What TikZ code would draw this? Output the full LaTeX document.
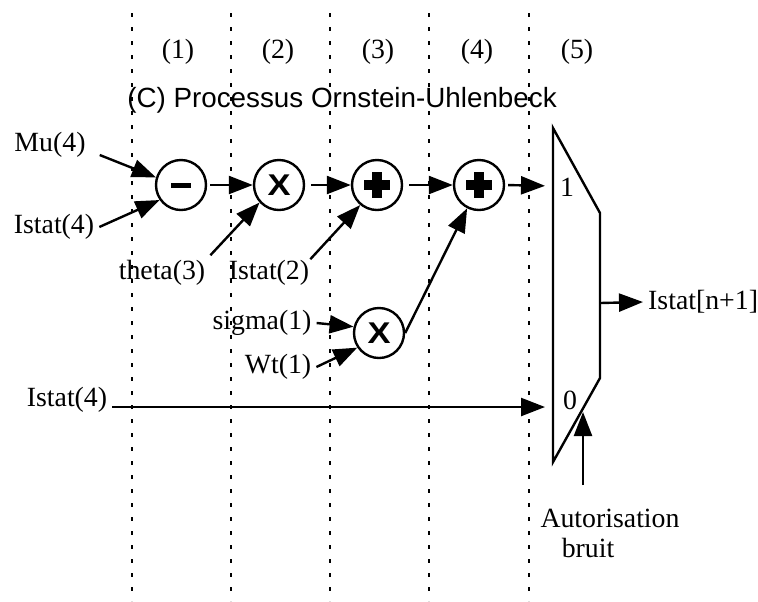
\documentclass[tikz,border=0pt]{standalone}
\usepackage{fontspec}
\setmainfont{Liberation Serif}
\setsansfont{Liberation Sans}
\usetikzlibrary{arrows.meta}

\newcommand{\plusmark}[1]{%
    \fill ([shift={(-6.5pt,-2.3pt)}]#1.center) rectangle ([shift={(6.5pt,2.3pt)}]#1.center);
    \fill ([shift={(-2.3pt,-6.5pt)}]#1.center) rectangle ([shift={(2.3pt,6.5pt)}]#1.center);}

\begin{document}
\begin{tikzpicture}[>={Triangle[length=12pt,width=9pt]},x=0.5pt,y=-0.5pt,line width=1.2pt,
        txt/.style={font=\fontsize{13.9}{16}\selectfont,inner sep=2pt},
        ttl/.style={font=\sffamily\fontsize{13.9}{16}\selectfont,inner sep=0pt},
        op/.style={circle,draw,minimum size=25pt,inner sep=0pt},
        opx/.style={op,font=\sffamily\bfseries\fontsize{15}{17}\selectfont},
        divider/.style={line width=1.4pt,dash pattern=on 2pt off 5pt}]
    \useasboundingbox (0,0) rectangle (758,601);
    \foreach \x in {132,231,330,429,529}
        \draw[divider] (\x,13) -- (\x,601);
    \foreach \x/\n in {178/1,278/2,378/3,477/4,577/5}
        \node[txt] (st\n) at (\x,52) {(\n)};
    \node[ttl] (title) at (342,100) {(C) Processus Ornstein-Uhlenbeck};

    \node[op] (sub) at (181,185) {\rule{10pt}{2.5pt}};
    \node[opx] (mulA) at (279,185) {\scalebox{1.15}[1]{X}};
    \node[op] (addA) at (377,185) {};
    \node[op] (addB) at (479,185) {};
    \node[opx] (mulB) at (379,333) {\scalebox{1.15}[1]{X}};
    \plusmark{addA}
    \plusmark{addB}

    \draw (553,128) -- (600,213) -- (600,378) -- (553,462) -- cycle;
    \coordinate (in1) at (553,186);
    \coordinate (in0) at (553,407);
    \coordinate (out) at (600,303);
    \coordinate (sel) at (583,412);
    \coordinate (selfoot) at (583,485);
    \node[txt] (one) at (567,187) {1};
    \node[txt] (zero) at (570,400) {0};

    \node[txt] (mu) at (50,145) {Mu(4)};
    \node[txt] (istatA) at (54,227) {Istat(4)};
    \node[txt] (theta) at (162,273) {theta(3)};
    \node[txt] (istatB) at (269,273) {Istat(2)};
    \node[txt] (sigma) at (262,323) {sigma(1)};
    \node[txt] (wt) at (278,367) {Wt(1)};
    \node[txt] (istatC) at (67,400) {Istat(4)};
    \node[txt,anchor=west] (istatN) at (643,302) {Istat[n+1]};
    \node[txt] (auto) at (610,518) {Autorisation};
    \node[txt] (bruit) at (588,548) {bruit};

    \draw[->] ([shift={(4.5pt,-5pt)}]mu.east) -- (sub.163);
    \draw[->] (istatA.east) -- (sub.215);
    \draw[->,shorten <=1.5pt] (sub.east) -- (mulA.west);
    \draw[->] (theta.north east) -- (mulA.222);
    \draw[->,shorten <=3pt] (mulA.east) -- (addA.west);
    \draw[->] ([shift={(-2pt,-2pt)}]istatB.north east) -- (addA.230);
    \draw[->,shorten <=3pt] (addA.east) -- (addB.west);
    \draw[->] (sigma.east) -- (mulB.166);
    \draw[->] (wt.east) -- (mulB.214);
    \draw[->] (mulB.east) -- (addB.243);
    \draw[->,shorten <=1.5pt,shorten >=4pt] (addB.east) -- (in1);
    \draw[->,shorten >=4pt] (istatC.base east |- in0) -- (in0);
    \draw[->] (out) -- (istatN.west);
    \draw[->] (selfoot) -- (sel);
\end{tikzpicture}
\end{document}
